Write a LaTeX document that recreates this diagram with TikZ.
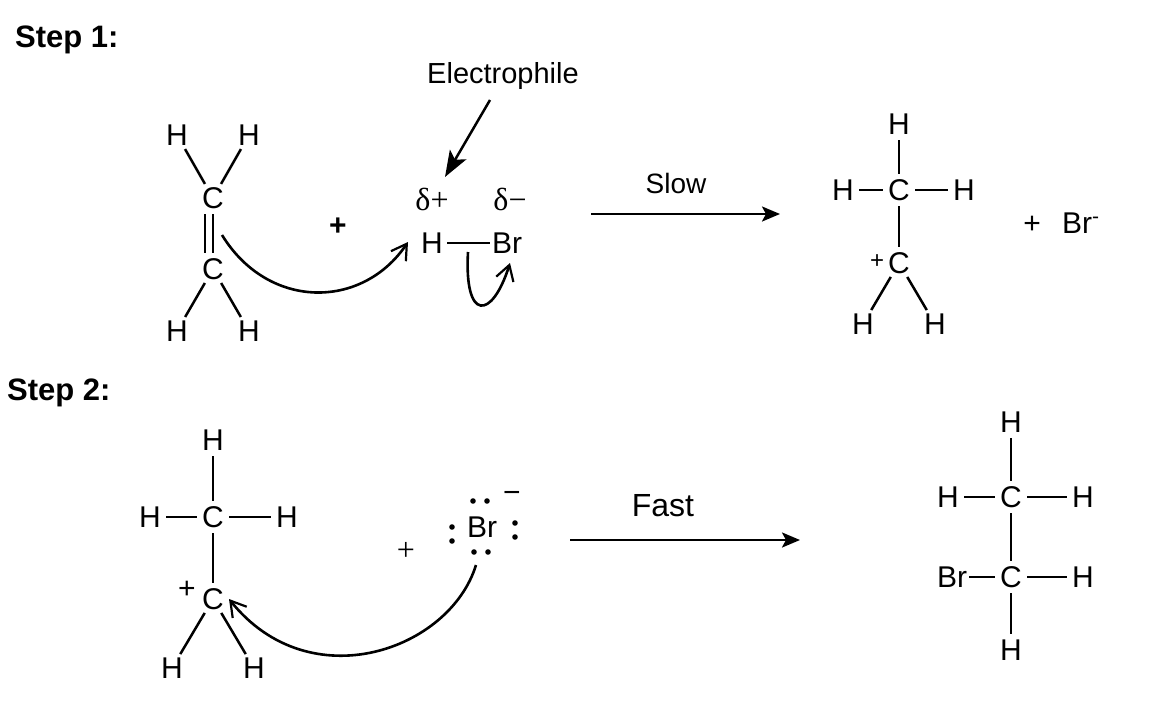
\documentclass[tikz,border=0pt]{standalone}
\usepackage{fontspec}
\setmainfont{Liberation Sans}
\newfontfamily\serifface{Liberation Serif}
\usetikzlibrary{arrows.meta}
\tikzset{
  atom/.style={circle, inner sep=0, minimum size=32pt, text height=21.5pt, text depth=0pt, font=\fontsize{30}{30}\selectfont},
  brom/.style={inner sep=2pt, text height=21.5pt, text depth=0pt, font=\fontsize{30}{30}\selectfont},
  label/.style={inner sep=0, font=\fontsize{29}{29}\selectfont},
  steplabel/.style={inner sep=0, anchor=west, font=\fontsize{31}{31}\selectfont\bfseries},
  thin label/.style={inner sep=0, font=\fontsize{32}{32}\selectfont\serifface},
  bond/.style={line width=2.5pt},
  curly/.style={line width=2.6pt, -{Straight Barb[length=15pt,width=18pt,line width=2.2pt]}},
  reaction/.style={line width=2.6pt, -{Stealth[length=18pt,width=15pt,inset=4pt]}}
}
\begin{document}
\begin{tikzpicture}[x=1pt, y=-1pt]
    \useasboundingbox (0,0) rectangle (1160,704);

    \node[steplabel] (step1) at (15,40) {Step 1:};
    \node[steplabel] (step2) at (7,393) {Step 2:};

    % ethene
    \node[atom] (Ha) at (177,135) {H};
    \node[atom] (Hb) at (249,135) {H};
    \node[atom] (Ca) at (213,198) {C};
    \node[atom] (Cb) at (213,269) {C};
    \node[atom] (Hc) at (177,331) {H};
    \node[atom] (Hd) at (249,331) {H};
    \draw[bond] (Ha) -- (Ca);
    \draw[bond] (Hb) -- (Ca);
    \draw[bond] (Ca.south) -- (Cb.north);
    \draw[bond] ([xshift=-8pt]Ca.south) -- ([xshift=-8pt]Cb.north);
    \draw[bond] (Cb) -- (Hc);
    \draw[bond] (Cb) -- (Hd);

    \node[label, font=\fontsize{30}{30}\selectfont\bfseries] (plusa) at (338,227) {+};

    % HBr
    \node[label] (electrophile) at (503,76) {Electrophile};
    \node[thin label] (dplus) at (432,199) {δ+};
    \node[thin label] (dminus) at (510,199) {δ−};
    \node[atom, minimum size=26pt] (Hbr) at (432,243) {H};
    \node[brom] (Br) at (507,243) {Br};
    \draw[bond] (Hbr) -- (Br);
    \coordinate (elstart) at (490,100);
    \coordinate (eltip) at (445,177);
    \draw[line width=2.5pt, -{Stealth[length=26pt,width=19pt,inset=6pt]}] (elstart) -- (eltip);

    % electron flow
    \coordinate (pia) at (222,235);
    \coordinate (pib) at (408,242);
    \draw[curly] (pia) .. controls (268,310) and (362,310) .. (pib);
    \coordinate (sigma) at (468,252);
    \coordinate (onbr) at (510,263);
    \draw[curly] (sigma) .. controls (464,322) and (492,320) .. (onbr);

    % slow arrow
    \coordinate (slowa) at (591,214);
    \coordinate (slowb) at (780,214);
    \draw[reaction] (slowa) -- (slowb);
    \node[label, font=\fontsize{28}{28}\selectfont] (slow) at (676,183) {Slow};

    % carbocation
    \node[atom] (He) at (899,124) {H};
    \node[atom] (Cc) at (899,190) {C};
    \node[atom] (Hf) at (843,190) {H};
    \node[atom] (Hg) at (964,190) {H};
    \node[atom] (Cd) at (899,263) {C};
    \node[atom] (Hh) at (863,324) {H};
    \node[atom] (Hi) at (935,324) {H};
    \node[label, font=\fontsize{24}{24}\selectfont] (plusb) at (877,262) {+};
    \draw[bond] (He) -- (Cc);
    \draw[bond] (Hf) -- (Cc);
    \draw[bond] (Cc) -- (Hg);
    \draw[bond] (Cc) -- (Cd);
    \draw[bond] (Cd) -- (Hh);
    \draw[bond] (Cd) -- (Hi);
    \node[label, font=\fontsize{30}{30}\selectfont] (plusc) at (1032,225) {+};
    \node[label, anchor=base west, font=\fontsize{30}{30}\selectfont] (Bra) at (1062,233) {Br\textsuperscript{-}};

    % step 2, carbocation
    \node[atom] (Hj) at (213,440) {H};
    \node[atom] (Ce) at (213,517) {C};
    \node[atom] (Hk) at (150,517) {H};
    \node[atom] (Hl) at (287,517) {H};
    \node[atom] (Cf) at (213,599) {C};
    \node[atom] (Hm) at (172,668) {H};
    \node[atom] (Hn) at (254,668) {H};
    \node[label, font=\fontsize{30}{30}\selectfont] (plusd) at (187,590) {+};
    \draw[bond] (Hj) -- (Ce);
    \draw[bond] (Hk) -- (Ce);
    \draw[bond] (Ce) -- (Hl);
    \draw[bond] (Ce) -- (Cf);
    \draw[bond] (Cf) -- (Hm);
    \draw[bond] (Cf) -- (Hn);

    \node[thin label] (pluse) at (406,551) {+};

    % bromide and its lone pairs
    \node[brom] (Brb) at (482,527) {Br};
    \node[label, font=\fontsize{30}{30}\selectfont] (minus) at (512,497) {−};
    \fill (473,501) circle [radius=2.8];
    \fill (487,501) circle [radius=2.8];
    \fill (474,552) circle [radius=2.8];
    \fill (488,552) circle [radius=2.8];
    \fill (452,527) circle [radius=2.8];
    \fill (452,541) circle [radius=2.8];
    \fill (515,523) circle [radius=2.8];
    \fill (515,537) circle [radius=2.8];

    \coordinate (lonepair) at (476,565);
    \coordinate (cation) at (229,599);
    \draw[curly] (lonepair) .. controls (450,650) and (310,700) .. (cation);

    % fast arrow
    \coordinate (fasta) at (570,540);
    \coordinate (fastb) at (800,540);
    \draw[reaction] (fasta) -- (fastb);
    \node[label, font=\fontsize{32}{32}\selectfont] (fast) at (663,506) {Fast};

    % bromoethane
    \node[atom] (Ho) at (1011,422) {H};
    \node[atom] (Cg) at (1011,497) {C};
    \node[atom] (Hp) at (948,497) {H};
    \node[atom] (Hq) at (1083,497) {H};
    \node[atom] (Ch) at (1011,577) {C};
    \node[brom] (Brc) at (952,577) {Br};
    \node[atom] (Hr) at (1083,577) {H};
    \node[atom] (Hs) at (1011,650) {H};
    \draw[bond] (Ho) -- (Cg);
    \draw[bond] (Hp) -- (Cg);
    \draw[bond] (Cg) -- (Hq);
    \draw[bond] (Cg) -- (Ch);
    \draw[bond] (Brc) -- (Ch);
    \draw[bond] (Ch) -- (Hr);
    \draw[bond] (Ch) -- (Hs);
\end{tikzpicture}
\end{document}
